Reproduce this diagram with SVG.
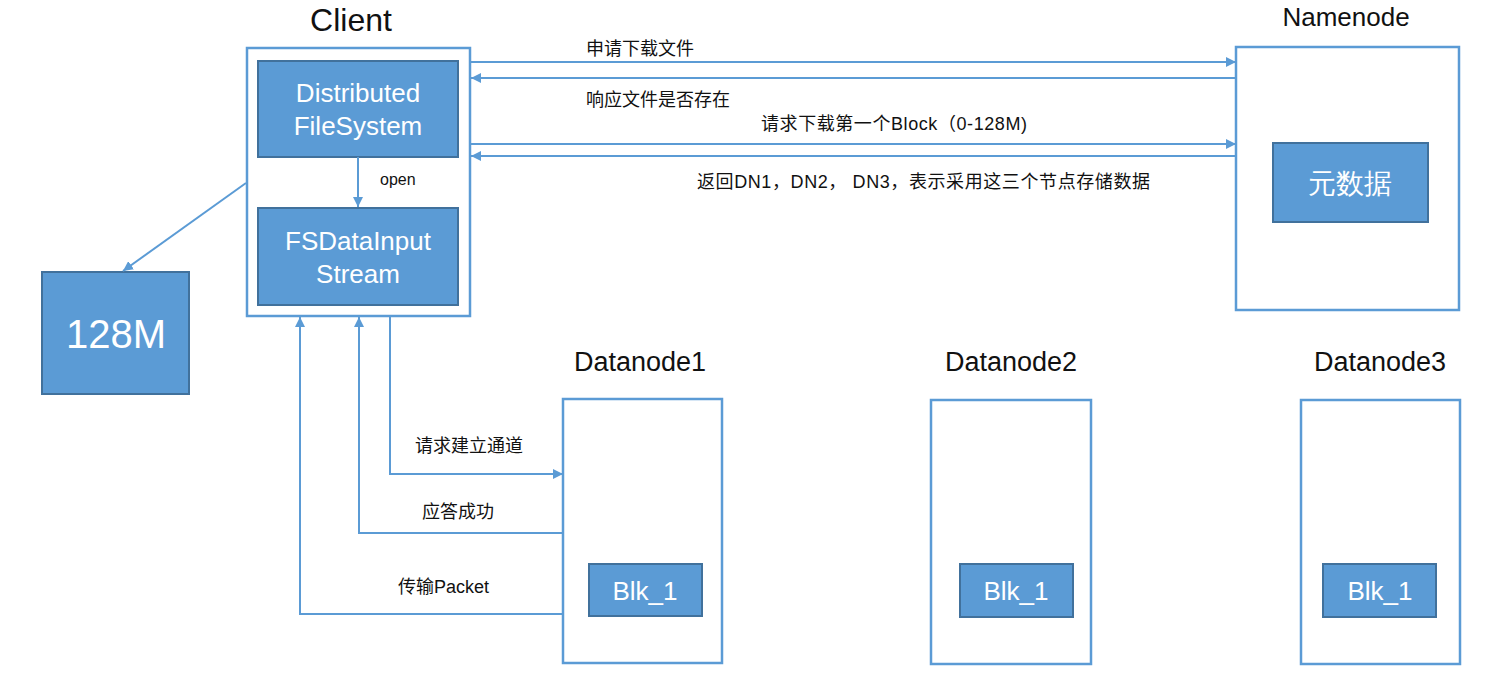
<svg xmlns="http://www.w3.org/2000/svg" width="1492" height="683" viewBox="0 0 1492 683">
<defs>
<marker id="ah" viewBox="0 0 10 10" refX="10" refY="5" markerWidth="10" markerHeight="10" markerUnits="userSpaceOnUse" orient="auto">
<path d="M0,0 L10,5 L0,10 Z" fill="#5b9bd5"/>
</marker>
<style>
.frame{fill:#ffffff;stroke:#5b9bd5;stroke-width:2.5}
.box{fill:#5b9bd5;stroke:#41719c;stroke-width:2}
.wt{fill:#ffffff;font-family:"Liberation Sans",Arial,sans-serif;text-anchor:middle}
.lbl{fill:#111111;font-family:"Liberation Sans",Arial,sans-serif;text-anchor:middle}
.cl{fill:#111111;font-family:"Liberation Sans","Noto Sans CJK SC",sans-serif;font-size:18px}
.con{fill:none;stroke:#5b9bd5;stroke-width:2;marker-end:url(#ah)}
</style>
</defs>
<rect width="1492" height="683" fill="#ffffff"/>

<g id="client">
<text class="lbl" x="351" y="31" font-size="32">Client</text>
<rect class="frame" x="247" y="48" width="223" height="268"/>
</g>
<g id="dfs">
<rect class="box" x="258" y="61" width="200" height="96"/>
<text class="wt" x="358" y="102" font-size="26">Distributed</text>
<text class="wt" x="358" y="135" font-size="26">FileSystem</text>
</g>
<g id="fsdis">
<rect class="box" x="258" y="208" width="200" height="97"/>
<text class="wt" x="358" y="250" font-size="26">FSDataInput</text>
<text class="wt" x="358" y="283" font-size="26">Stream</text>
</g>
<g id="block128">
<rect class="box" x="42" y="272" width="147" height="122"/>
<text class="wt" x="116" y="348" font-size="40">128M</text>
</g>
<g id="namenode">
<text class="lbl" x="1346" y="26" font-size="26">Namenode</text>
<rect class="frame" x="1236" y="47" width="223" height="263"/>
</g>
<g id="metadata">
<rect class="box" x="1273" y="143" width="155" height="79"/>
<text class="wt" x="1350" y="193" font-size="28" font-family="'Noto Sans CJK SC',sans-serif">元数据</text>
</g>
<g id="datanode1">
<text class="lbl" x="640" y="371" font-size="27">Datanode1</text>
<rect class="frame" x="563" y="399" width="159" height="264"/>
<rect class="box" x="589" y="564" width="113" height="52"/>
<text class="wt" x="645" y="600" font-size="26">Blk_1</text>
</g>
<g id="datanode2">
<text class="lbl" x="1011" y="371" font-size="27">Datanode2</text>
<rect class="frame" x="931" y="400" width="160" height="264"/>
<rect class="box" x="960" y="564" width="113" height="53"/>
<text class="wt" x="1016" y="600" font-size="26">Blk_1</text>
</g>
<g id="datanode3">
<text class="lbl" x="1380" y="371" font-size="27">Datanode3</text>
<rect class="frame" x="1301" y="400" width="159" height="264"/>
<rect class="box" x="1323" y="564" width="113" height="53"/>
<text class="wt" x="1380" y="600" font-size="26">Blk_1</text>
</g>

<g id="connectors">
<path class="con" d="M358,157 L358,207"/>
<text class="cl" x="380" y="185" style="font-size:16px">open</text>
<path class="con" d="M246,183 L123,271"/>
<path class="con" d="M471,62 L1236,62"/>
<text class="cl" x="586" y="55">申请下载文件</text>
<path class="con" d="M1236,78 L471,78"/>
<text class="cl" x="586" y="106">响应文件是否存在</text>
<path class="con" d="M471,144 L1236,144"/>
<text class="cl" x="761" y="130" textLength="266" lengthAdjust="spacing">请求下载第一个Block（0-128M)</text>
<path class="con" d="M1236,156 L471,156"/>
<text class="cl" x="697" y="188" textLength="453" lengthAdjust="spacing">返回DN1，DN2， DN3，表示采用这三个节点存储数据</text>
<path class="con" d="M390,316 L390,474 L563,474"/>
<text class="cl" x="415" y="452">请求建立通道</text>
<path class="con" d="M563,533 L359,533 L359,317"/>
<text class="cl" x="422" y="518">应答成功</text>
<path class="con" d="M563,614 L300,614 L300,317"/>
<text class="cl" x="398" y="593">传输Packet</text>
</g>
</svg>
